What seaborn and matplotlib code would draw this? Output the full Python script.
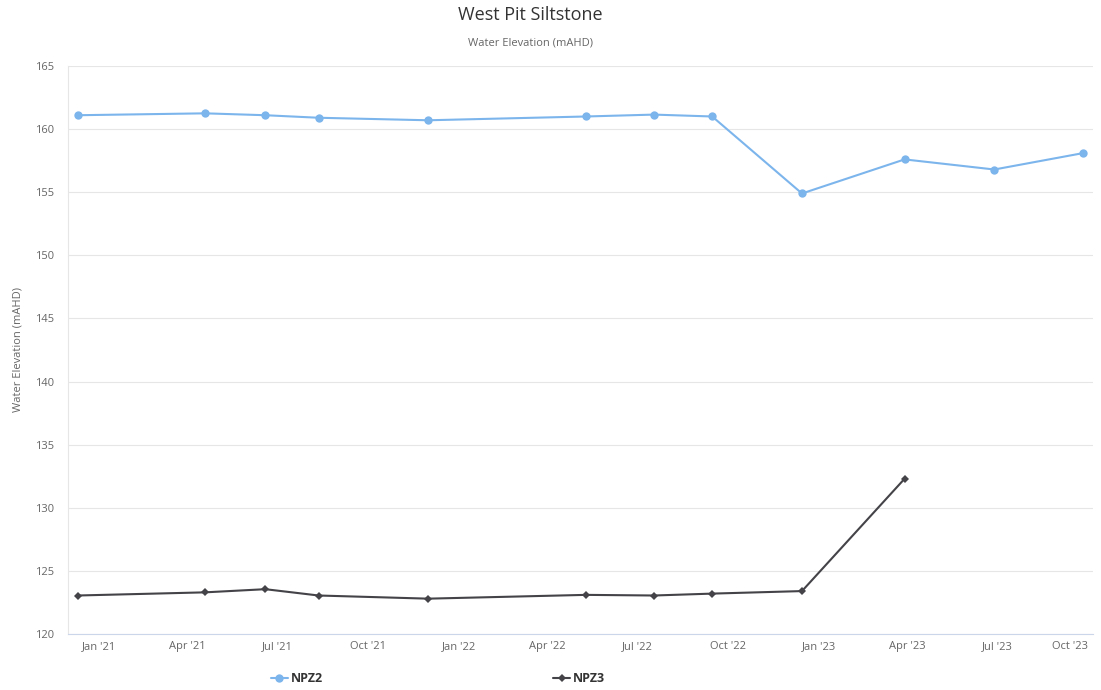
import pandas as pd
import numpy as np
import matplotlib.pyplot as plt
import matplotlib.dates as mdates
from matplotlib.lines import Line2D
import seaborn as sns

# data
npz2_dates = ["2020-12-11", "2021-04-19", "2021-06-19", "2021-08-12", "2021-12-01",
              "2022-05-10", "2022-07-18", "2022-09-15", "2022-12-15", "2023-03-29",
              "2023-06-28", "2023-09-26"]
npz2_values = [161.1, 161.25, 161.1, 160.9, 160.7, 161.0, 161.15, 161.0, 154.9, 157.6,
               156.8, 158.1]

npz3_dates = ["2020-12-11", "2021-04-19", "2021-06-19", "2021-08-12", "2021-12-01",
              "2022-05-10", "2022-07-18", "2022-09-15", "2022-12-15", "2023-03-29"]
npz3_values = [123.05, 123.3, 123.55, 123.05, 122.8, 123.1, 123.05, 123.2, 123.4, 132.3]

series_names = ["NPZ2", "NPZ3"]
series_colors = ["#7cb5ec", "#434348"]
y_ticks = [120, 125, 130, 135, 140, 145, 150, 155, 160, 165]

df = pd.concat([
    pd.DataFrame({"date": pd.to_datetime(npz2_dates), "value": npz2_values, "series": "NPZ2"}),
    pd.DataFrame({"date": pd.to_datetime(npz3_dates), "value": npz3_values, "series": "NPZ3"}),
])

sns.set_style("white")
plt.rcParams['font.family'] = ['Open Sans', 'DejaVu Sans']

fig = plt.figure(figsize=(11.01, 6.9), dpi=100)
ax = fig.add_axes([68 / 1101, 1 - 634 / 690, (1093 - 68) / 1101, (634 - 66) / 690])

sns.lineplot(data=df, x="date", y="value", hue="series", style="series",
             palette=dict(zip(series_names, series_colors)),
             markers={"NPZ2": "o", "NPZ3": "D"}, dashes=False,
             linewidth=1.5, markeredgewidth=0, legend=False, ax=ax)
# marker sizes differ per series
for line, ms in zip(ax.get_lines(), [6, 4]):
    line.set_markersize(ms)

ax.set_xlim(pd.Timestamp("2020-12-01"), pd.Timestamp("2023-10-06"))
ax.set_ylim(120, 165)
ax.set_yticks(y_ticks)
ax.yaxis.grid(True, color="#e6e6e6", linewidth=0.8)
ax.xaxis.grid(False)

ax.xaxis.set_major_locator(mdates.MonthLocator(bymonth=[1, 4, 7, 10]))
ax.xaxis.set_major_formatter(mdates.DateFormatter("%b '%y"))
ax.tick_params(axis="x", length=7, width=0.8, color="#ccd6eb", labelsize=8,
               labelcolor="#666666", pad=-2)
ax.tick_params(axis="y", length=0, labelsize=8, labelcolor="#666666", pad=10)
ax.get_xticklabels()[-1].set_horizontalalignment("right")

for side in ["top", "right"]:
    ax.spines[side].set_visible(False)
ax.spines["left"].set_color("#e6e6e6")
ax.spines["left"].set_linewidth(0.8)
ax.spines["bottom"].set_color("#ccd6eb")
ax.spines["bottom"].set_linewidth(0.8)

ax.set_xlabel("")
ax.set_ylabel("Water Elevation (mAHD)", fontsize=8, color="#666666", labelpad=8)

fig.text(0.482, 1 - 15 / 690, "West Pit Siltstone", ha="center", va="center",
         fontsize=13, color="#333333")
fig.text(0.482, 1 - 43 / 690, "Water Elevation (mAHD)", ha="center", va="center",
         fontsize=8, color="#666666")

handles = [
    Line2D([], [], color=series_colors[0], marker="o", markersize=6, linewidth=1.5,
           markeredgewidth=0),
    Line2D([], [], color=series_colors[1], marker="D", markersize=4, linewidth=1.5,
           markeredgewidth=0),
]
leg = fig.legend(handles, series_names, loc="center left", bbox_to_anchor=(260 / 1101, 1 - 679 / 690),
                 ncol=2, frameon=False, handlelength=1.3, handletextpad=0.3,
                 columnspacing=18.4, prop={"size": 9, "weight": "bold"})
for t in leg.get_texts():
    t.set_color("#333333")

fig.savefig("out.png", dpi=100)
